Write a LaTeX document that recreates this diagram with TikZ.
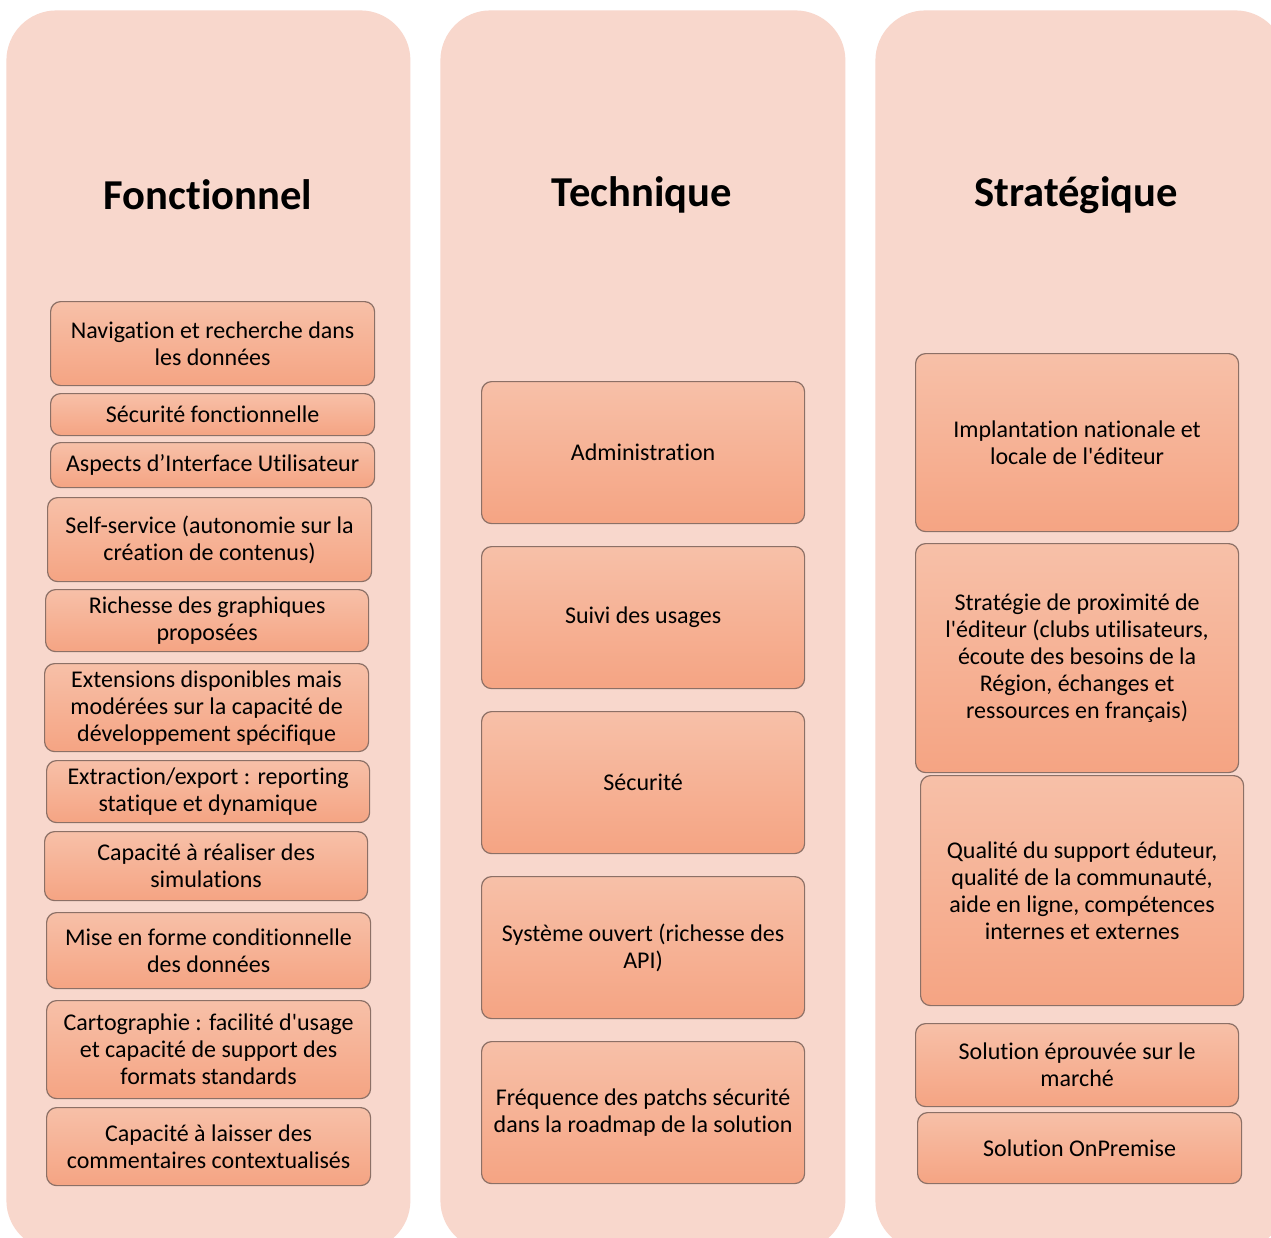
\documentclass[tikz,border=0pt]{standalone}
\usepackage{fontspec}
\setmainfont{Carlito}[Ligatures={NoCommon,TeXOff}]
\usepackage{tikz}
\usetikzlibrary{positioning}

\definecolor{colbg}{HTML}{F8D7CC}
\definecolor{boxtop}{HTML}{F7C0A8}
\definecolor{boxbot}{HTML}{F5A483}
\definecolor{boxline}{HTML}{8C7066}

\tikzset{
  column/.style={fill=colbg, rounded corners=25pt, anchor=north west, inner sep=0pt},
  coltitle/.style={font=\fontsize{21.3}{26}\selectfont\bfseries},
  item/.style={draw=boxline, line width=0.6pt, rectangle, rounded corners=5pt, top color=boxtop, bottom color=boxbot,
    anchor=north west, inner sep=1pt, align=center, font=\fontsize{12}{13.5}\selectfont}
}

\begin{document}
\begin{tikzpicture}[x=0.5pt, y=-0.5pt]
    \clip (0,0) rectangle (1271,1238);
    \fill[white] (0,0) rectangle (1271,1238);

    % columns
    \node [column, minimum width=202pt, minimum height=620pt] (colF) at (6,10) {};
    \node [column, minimum width=202.5pt, minimum height=620pt] (colT) at (440,10) {};
    \node [column, minimum width=205pt, minimum height=620pt] (colS) at (875,10) {};

    \node [coltitle] (tF) at (208,195) {Fonctionnel};
    \node [coltitle] (tT) at (642,195) {Technique};
    \node [coltitle] (tS) at (1076,195) {Stratégique};

    % Fonctionnel
    \node [item, minimum width=162pt, minimum height=42pt] (f1) at (50,301) {Navigation et recherche dans\\les données};
    \node [item, minimum width=162pt, minimum height=21pt] (f2) at (50,393) {Sécurité fonctionnelle};
    \node [item, minimum width=162pt, minimum height=22.5pt] (f3) at (50,442) {Aspects d’Interface Utilisateur};
    \node [item, minimum width=162pt, minimum height=42pt] (f4) at (47,497) {Self-service (autonomie sur la\\création de contenus)};
    \node [item, minimum width=161.5pt, minimum height=31pt] (f5) at (45,589) {Richesse des graphiques\\proposées};
    \node [item, minimum width=162pt, minimum height=44pt] (f6) at (44,663) {Extensions disponibles mais\\modérées sur la capacité de\\développement spécifique};
    \node [item, minimum width=161.5pt, minimum height=31pt] (f7) at (46,760) {Extraction/export : reporting\\statique et dynamique};
    \node [item, minimum width=161.5pt, minimum height=34.5pt] (f8) at (44,831) {Capacité à réaliser des\\simulations};
    \node [item, minimum width=162pt, minimum height=38pt] (f9) at (46,912) {Mise en forme conditionnelle\\des données};
    \node [item, minimum width=162pt, minimum height=49pt] (f10) at (46,1000) {Cartographie : facilité d'usage\\et capacité de support des\\formats standards};
    \node [item, minimum width=162pt, minimum height=39pt] (f11) at (46,1107) {Capacité à laisser des\\commentaires contextualisés};

    % Technique
    \node [item, minimum width=161.5pt, minimum height=71pt] (t1) at (481,381) {Administration};
    \node [item, minimum width=161.5pt, minimum height=71pt] (t2) at (481,546) {Suivi des usages};
    \node [item, minimum width=161.5pt, minimum height=71pt] (t3) at (481,711) {Sécurité};
    \node [item, minimum width=161.5pt, minimum height=71pt] (t4) at (481,876) {Système ouvert (richesse des\\API)};
    \node [item, minimum width=161.5pt, minimum height=71pt] (t5) at (481,1041) {Fréquence des patchs sécurité\\dans la roadmap de la solution};

    % Stratégique
    \node [item, minimum width=161.5pt, minimum height=89pt] (s1) at (915,353) {Implantation nationale et\\locale de l'éditeur};
    \node [item, minimum width=161.5pt, minimum height=114.5pt] (s2) at (915,543) {Stratégie de proximité de\\l'éditeur (clubs utilisateurs,\\écoute des besoins de la\\Région, échanges et\\ressources en français)};
    \node [item, minimum width=161.5pt, minimum height=115pt] (s3) at (920,775) {Qualité du support éduteur,\\qualité de la communauté,\\aide en ligne, compétences\\internes et externes};
    \node [item, minimum width=161.5pt, minimum height=41.5pt] (s4) at (915,1023) {Solution éprouvée sur le\\marché};
    \node [item, minimum width=162pt, minimum height=35.5pt] (s5) at (917,1112) {Solution OnPremise};
\end{tikzpicture}
\end{document}
